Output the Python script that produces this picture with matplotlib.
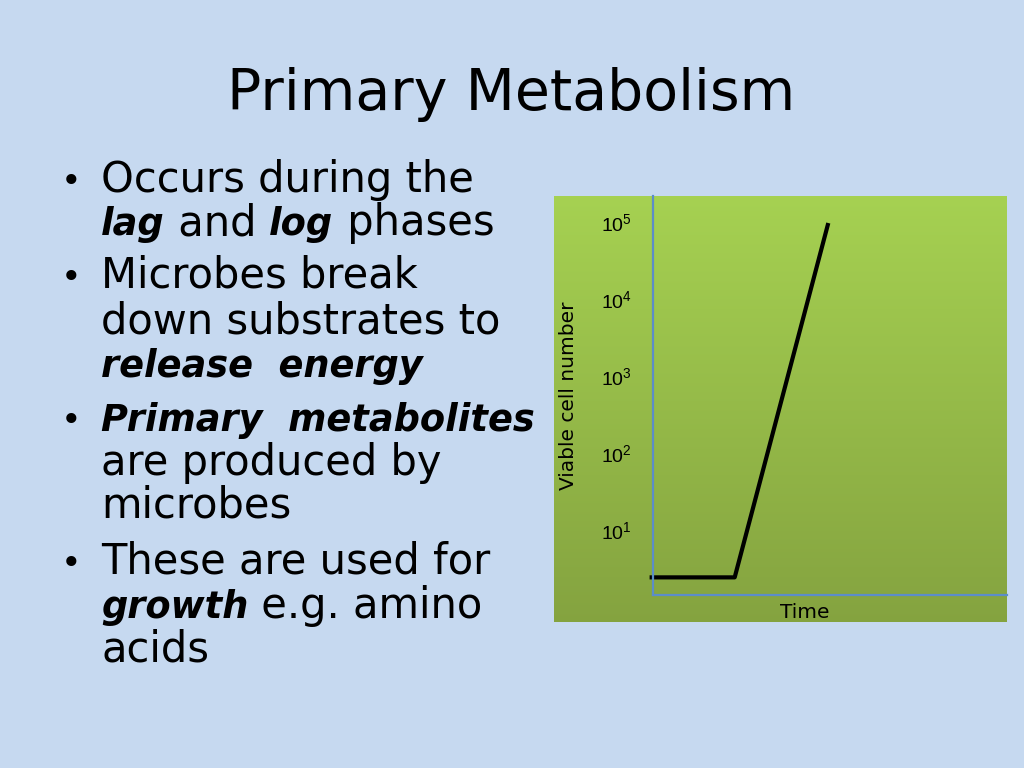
import numpy as np
import matplotlib.pyplot as plt

# slide text
title = 'Primary Metabolism'
# each bullet: list of lines, each line: list of (text, style) runs
bullets = [
    [[('Occurs during the', 'n')],
     [('lag', 'bi'), (' and ', 'n'), ('log', 'bi'), (' phases', 'n')]],
    [[('Microbes break', 'n')],
     [('down substrates to', 'n')],
     [('release  energy', 'bi')]],
    [[('Primary  metabolites', 'bi')],
     [('are produced by', 'n')],
     [('microbes', 'n')]],
    [[('These are used for', 'n')],
     [('growth', 'bi'), (' e.g. amino', 'n')],
     [('acids', 'n')]],
]

# growth curve (lag phase then log phase)
time = [0, 1, 2.1]
cells = [2.5, 2.5, 1.0e5]
tick_vals = [1e1, 1e2, 1e3, 1e4, 1e5]
tick_labels = ['$10^1$', '$10^2$', '$10^3$', '$10^4$', '$10^5$']

W, H = 1024, 768
bg = '#C6D9F0'
plt.rcParams['mathtext.fontset'] = 'custom'
plt.rcParams['mathtext.rm'] = 'Liberation Sans'
fig = plt.figure(figsize=(W / 100, H / 100), dpi=100, facecolor=bg)

def fx(px):
    return px / W

def fy(py):
    return 1 - py / H

fig.text(fx(511), fy(110), title, ha='center', va='baseline',
         fontsize=41, family='DejaVu Sans', color='black')

# bullet text, run by run
renderer = fig.canvas.get_renderer()
normal_size = 30
bold_size = 26.5
baselines = [192, 235, 288, 333, 377, 431, 475, 518, 574, 618, 661]
line_no = 0
for para in bullets:
    for i, runs in enumerate(para):
        yb = baselines[line_no]
        if i == 0:
            fig.text(fx(61), fy(yb), '\u2022', ha='left', va='baseline',
                     fontsize=25, family='DejaVu Sans')
        x = 101
        for txt, style in runs:
            if style == 'bi':
                kw = dict(fontweight='bold', fontstyle='italic', fontsize=bold_size)
            else:
                kw = dict(fontweight='normal', fontstyle='normal', fontsize=normal_size)
            t = fig.text(fx(x), fy(yb), txt, ha='left', va='baseline',
                         family='DejaVu Sans', **kw)
            x += t.get_window_extent(renderer).width
        line_no += 1

# chart panel with green gradient
panel = fig.add_axes([fx(554), fy(622), fx(1007 - 554), (622 - 196) / H])
g = np.linspace(0, 1, 256)[:, None] * np.ones((1, 2))
top = np.array([0.65, 0.82, 0.32])
bot = np.array([0.52, 0.64, 0.25])
grad = top[None, None, :] * (1 - g[..., None]) + bot[None, None, :] * g[..., None]
panel.imshow(grad, aspect='auto', extent=[0, 1, 0, 1])
panel.set_axis_off()

ax = fig.add_axes([fx(653), fy(595), fx(1007 - 653), (595 - 196) / H])
ax.patch.set_alpha(0)
ax.plot(time, cells, color='black', lw=3, clip_on=False, solid_capstyle='butt')
ax.set_yscale('log')
ax.set_xlim(0.04, 4.2)
ax.set_ylim(10 ** 0.169, 10 ** 5.351)
ax.set_yticks(tick_vals)
ax.set_yticklabels(tick_labels)
ax.minorticks_off()
ax.set_xticks([])
ax.tick_params(axis='y', length=0, pad=15, labelsize=14)
for s in ['top', 'right']:
    ax.spines[s].set_visible(False)
for s in ['left', 'bottom']:
    ax.spines[s].set_color('#5B8DC9')
    ax.spines[s].set_linewidth(1.6)
ax.set_ylabel('Viable cell number', fontsize=14.5, labelpad=17)
fig.text(fx(805), fy(612), 'Time', ha='center', va='center', fontsize=14.5)

fig.savefig('out.png', dpi=100, facecolor=bg)
